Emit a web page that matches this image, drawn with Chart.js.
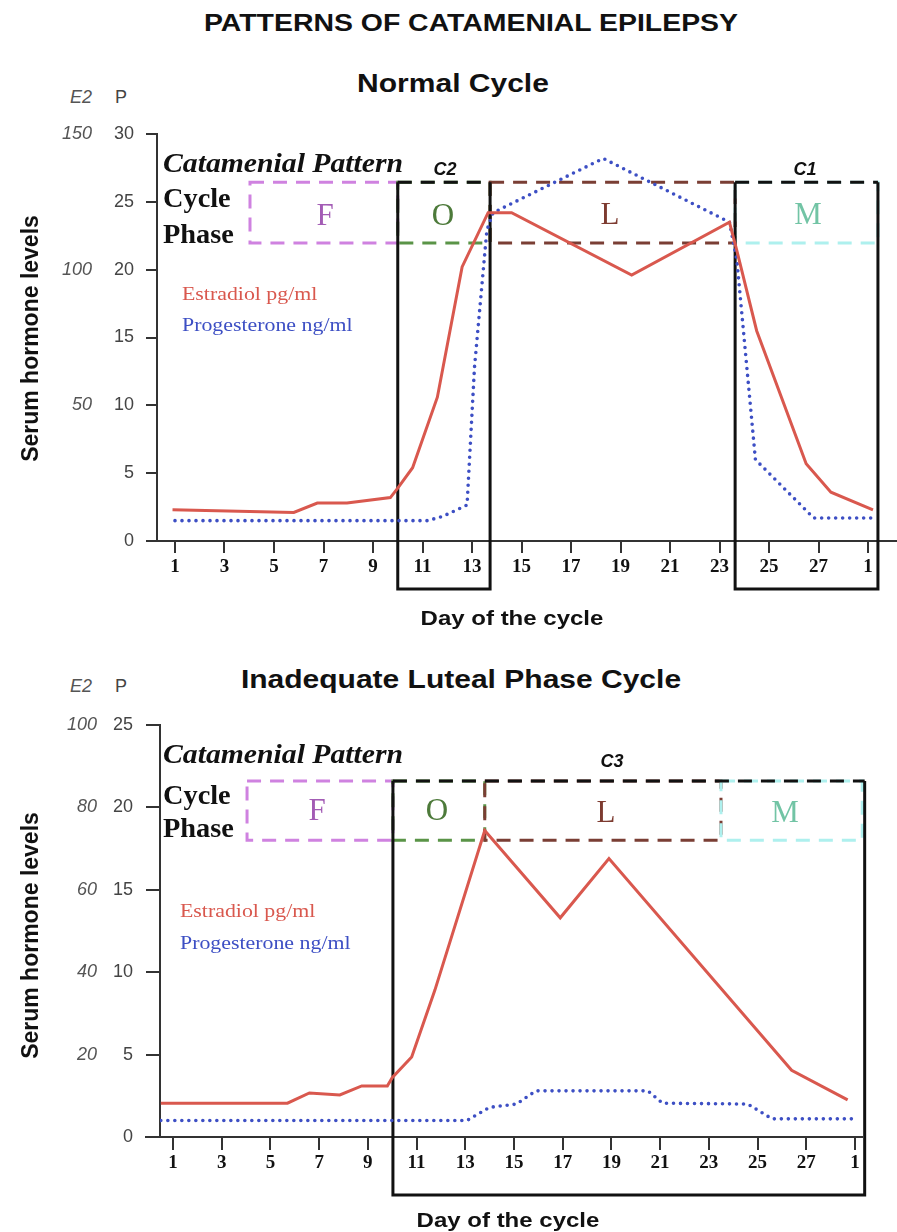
<!DOCTYPE html>
<html><head><meta charset="utf-8">
<script src="https://cdn.jsdelivr.net/npm/chart.js@4.4.1/dist/chart.umd.min.js"></script>
<style>
html,body{margin:0;padding:0;background:#fff;}
#page{position:relative;width:897px;height:1232px;overflow:hidden;background:#fff;}
.cw{position:absolute;left:0;width:897px;}
.t{position:absolute;white-space:nowrap;line-height:1;width:1000px;}
</style></head><body><div id="page">
<div class="cw" style="top:110px;height:520px"><canvas id="c1" width="897" height="520"></canvas></div>
<div class="cw" style="top:700px;height:520px"><canvas id="c2" width="897" height="520"></canvas></div>
</div>
<script>
// ---------- data ----------
const tickDays = [1,3,5,7,9,11,13,15,17,19,21,23,25,27,29];
const tickLabels = ['1','3','5','7','9','11','13','15','17','19','21','23','25','27','1'];

// Normal cycle
const normalE2Days = [0.9, 5.8, 6.75, 7.95, 9.7, 10.0, 10.6, 11.6, 12.6, 13.65, 14.6, 19.45, 23.4, 23.7, 24.5, 26.5, 27.5, 29.2];
const normalE2     = [11.5, 10.5, 14, 14, 16, 19.5, 27, 53, 101, 121, 121, 98, 117.5, 107, 77.5, 28.5, 18, 11.5];
const normalPDays  = [1.0, 11.2, 11.8, 12.8, 13.1, 13.6, 13.85, 18.3, 23.4, 23.7, 24.45, 26.8, 29.2];
const normalP      = [1.5, 1.5, 1.8, 2.65, 12.8, 22.9, 24.2, 28.2, 23.5, 20.7, 6.0, 1.7, 1.7];

// Inadequate luteal phase cycle
const ilpE2Days = [0.5, 5.7, 6.6, 7.85, 8.75, 9.8, 10.0, 10.8, 11.75, 13.8, 16.9, 18.9, 26.4, 28.7];
const ilpE2     = [8.2, 8.2, 10.7, 10.2, 12.4, 12.4, 14.4, 19.4, 35.6, 74.4, 53.2, 67.6, 16.2, 9];
const ilpPDays  = [0.5, 13.07, 14.0, 15.1, 15.9, 20.5, 21.1, 24.6, 25.6, 28.9];
const ilpP      = [1.0, 1.0, 1.8, 2.0, 2.8, 2.8, 2.05, 2.0, 1.1, 1.1];

// Cycle phases (days) and pattern windows
const phaseNames = ['F','O','L','M'];
const normalPhaseStart = [4.03, 10.0, 13.73, 23.63];
const normalPhaseEnd   = [10.0, 13.73, 23.63, 29.4];
const normalPhaseBand  = [21.96, 26.45];
const normalPatterns   = ['C2','C1'];
const normalPatternStart = [10.0, 23.63];
const normalPatternEnd   = [13.73, 29.4];

const ilpPhaseStart = [4.04, 10.03, 13.8, 23.5];
const ilpPhaseEnd   = [10.03, 13.8, 23.5, 29.3];
const ilpPhaseBand  = [18.0, 21.6];
const ilpPatterns   = ['C3'];
const ilpPatternStart = [10.03];
const ilpPatternEnd   = [29.4];

// ---------- styles ----------
const phaseColors = ['#cf82e0','#5a9447','#7a3e34','#aef0ee'];
const RED = '#d9584e', BLUE = '#3d4fc4', AXIS = '#333';
const SANS = "'Liberation Sans', Arial, sans-serif";
const SERIF = "'Liberation Serif', 'Times New Roman', serif";

const pts = (xs, ys) => xs.map((d, i) => ({x: d, y: ys[i]}));

const phasePlugin = {
  id: 'phases',
  beforeDatasetsDraw(chart, args, o) {
    const {ctx, scales: {x, y}} = chart;
    ctx.save();
    ctx.lineWidth = 3;
    o.start.forEach((s, i) => {
      const x0 = x.getPixelForValue(s), x1 = x.getPixelForValue(o.end[i]);
      const y0 = y.getPixelForValue(o.band[1]), y1 = y.getPixelForValue(o.band[0]);
      ctx.strokeStyle = phaseColors[i];
      ctx.setLineDash([14, 9]);
      ctx.strokeRect(x0, y0, x1 - x0, y1 - y0);
    });
    o.cStart.forEach((s, i) => {
      const x0 = x.getPixelForValue(s), x1 = x.getPixelForValue(o.cEnd[i]);
      const yt = y.getPixelForValue(o.band[1]), yb = y.getPixelForValue(0) + o.cDrop;
      ctx.strokeStyle = '#111';
      ctx.setLineDash([]);
      ctx.beginPath(); ctx.moveTo(x0, yt); ctx.lineTo(x0, yb); ctx.lineTo(x1, yb); ctx.lineTo(x1, yt); ctx.stroke();
      ctx.setLineDash([14, 9]);
      ctx.beginPath(); ctx.moveTo(x0, yt); ctx.lineTo(x1, yt); ctx.stroke();
    });
    ctx.restore();
  },
  afterDraw(chart, args, o) {
    if (!o.axisExt) return;
    const {ctx, chartArea} = chart;
    ctx.save();
    ctx.strokeStyle = AXIS; ctx.lineWidth = 2;
    ctx.beginPath(); ctx.moveTo(chartArea.left - o.axisExt, chartArea.bottom); ctx.lineTo(chartArea.left, chartArea.bottom); ctx.stroke();
    ctx.restore();
  }
};

function makeChart(id, cfg) {
  return new Chart(document.getElementById(id), {
    type: 'line',
    data: {
      datasets: [
        {label: 'Estradiol pg/ml', data: pts(cfg.e2Days, cfg.e2), yAxisID: 'y2', borderColor: RED, borderWidth: 3, pointRadius: 0, tension: 0, fill: false},
        {label: 'Progesterone ng/ml', data: pts(cfg.pDays, cfg.p), yAxisID: 'y', borderColor: BLUE, borderWidth: 3.6, borderDash: [0, 7], borderCapStyle: 'round', pointRadius: 0, tension: 0, fill: false}
      ]
    },
    options: {
      responsive: false, animation: false, devicePixelRatio: 1,
      layout: {padding: {top: cfg.padTop, left: 0, right: cfg.padRight, bottom: 0}},
      plugins: {
        legend: {display: false}, tooltip: {enabled: false},
        phases: {start: cfg.phStart, end: cfg.phEnd, band: cfg.band, cStart: cfg.cStart, cEnd: cfg.cEnd, cDrop: cfg.cDrop, axisExt: cfg.axisExt}
      },
      scales: {
        x: {
          type: 'linear', min: cfg.xMin, max: cfg.xMax,
          afterBuildTicks: s => { s.ticks = tickDays.map(v => ({value: v})); },
          afterFit: s => { s.height = cfg.xH; },
          ticks: {autoSkip: false, maxRotation: 0, color: '#111', padding: cfg.xPad,
                  font: {family: SERIF, weight: 'bold', size: 19},
                  callback: v => tickLabels[tickDays.indexOf(v)]},
          grid: {drawOnChartArea: false, drawTicks: true, tickLength: cfg.xTick, color: AXIS, lineWidth: 2},
          border: {display: true, color: AXIS, width: 2}
        },
        y: {
          position: 'left', weight: 0, min: 0, max: cfg.pMax,
          afterFit: s => { s.width = cfg.pW; },
          ticks: {stepSize: 5, color: '#444', padding: cfg.pPad, font: {family: SANS, size: 18}},
          grid: {drawOnChartArea: false, drawTicks: true, tickLength: cfg.pTick, color: AXIS, lineWidth: 2},
          border: {display: true, color: AXIS, width: 2}
        },
        y2: {
          position: 'left', weight: 1, min: 0, max: cfg.eMax,
          afterFit: s => { s.width = 100; },
          ticks: {stepSize: cfg.eStep, color: '#555', padding: cfg.ePad, font: {family: SANS, size: 18, style: 'italic'},
                  callback: v => v === 0 ? '' : v},
          grid: {display: false, drawTicks: false},
          border: {display: false}
        }
      }
    },
    plugins: [phasePlugin]
  });
}

makeChart('c1', {
  e2Days: normalE2Days, e2: normalE2, pDays: normalPDays, p: normalP,
  padTop: 24, padRight: 0, xMin: 0.273, xMax: 30.17, xH: 89, xPad: 3, xTick: 12,
  pMax: 30, pW: 57, pPad: 12, pTick: 11, eMax: 150, eStep: 50, ePad: 8,
  phStart: normalPhaseStart, phEnd: normalPhaseEnd, band: normalPhaseBand,
  cStart: normalPatternStart, cEnd: normalPatternEnd, cDrop: 48, axisExt: 0
});
makeChart('c2', {
  e2Days: ilpE2Days, e2: ilpE2, pDays: ilpPDays, p: ilpP,
  padTop: 25, padRight: 35, xMin: 0.466, xMax: 29.29, xH: 83, xPad: 2, xTick: 13,
  pMax: 25, pW: 60, pPad: 13, pTick: 14, eMax: 100, eStep: 20, ePad: 3,
  phStart: ilpPhaseStart, phEnd: ilpPhaseEnd, band: ilpPhaseBand,
  cStart: ilpPatternStart, cEnd: ilpPatternEnd, cDrop: 58, axisExt: 15
});

// ---------- text ----------
const texts = [
  ['PATTERNS OF CATAMENIAL EPILEPSY', 471, 31, 'c', SANS, 23, 'bold', 'normal', '#111', 1.235],
  ['Normal Cycle', 453, 92, 'c', SANS, 25, 'bold', 'normal', '#111', 1.2],
  ['E2', 92, 103, 'r', SANS, 18, 'normal', 'italic', '#555', 1],
  ['P', 121, 103, 'c', SANS, 18, 'normal', 'normal', '#444', 1],
  ['Catamenial Pattern', 163, 173, 'l', SERIF, 27, 'bold', 'italic', '#111', 1.1],
  ['Cycle', 163, 208, 'l', SERIF, 27, 'bold', 'normal', '#111', 1.05],
  ['Phase', 163, 244, 'l', SERIF, 27, 'bold', 'normal', '#111', 1.05],
  ['C2', 445, 175, 'c', SANS, 18, 'bold', 'italic', '#111', 1],
  ['C1', 805, 175, 'c', SANS, 18, 'bold', 'italic', '#111', 1],
  ['F', 325, 225, 'c', SERIF, 31, 'normal', 'normal', '#a35cb5', 1],
  ['O', 443, 225, 'c', SERIF, 31, 'normal', 'normal', '#4d7a3a', 1],
  ['L', 610, 224, 'c', SERIF, 31, 'normal', 'normal', '#7d3b30', 1],
  ['M', 808, 224, 'c', SERIF, 31, 'normal', 'normal', '#72c4a5', 1],
  ['Estradiol pg/ml', 182, 300, 'l', SERIF, 19, 'normal', 'normal', RED, 1.15],
  ['Progesterone ng/ml', 182, 331, 'l', SERIF, 19, 'normal', 'normal', BLUE, 1.15],
  ['Day of the cycle', 512, 625, 'c', SANS, 20, 'bold', 'normal', '#111', 1.2],

  ['Inadequate Luteal Phase Cycle', 461, 688, 'c', SANS, 25, 'bold', 'normal', '#111', 1.2],
  ['E2', 92, 692, 'r', SANS, 18, 'normal', 'italic', '#555', 1],
  ['P', 121, 692, 'c', SANS, 18, 'normal', 'normal', '#444', 1],
  ['Catamenial Pattern', 163, 764, 'l', SERIF, 27, 'bold', 'italic', '#111', 1.1],
  ['Cycle', 163, 805, 'l', SERIF, 27, 'bold', 'normal', '#111', 1.05],
  ['Phase', 163, 838, 'l', SERIF, 27, 'bold', 'normal', '#111', 1.05],
  ['C3', 612, 767, 'c', SANS, 18, 'bold', 'italic', '#111', 1],
  ['F', 317, 820, 'c', SERIF, 31, 'normal', 'normal', '#a35cb5', 1],
  ['O', 437, 820, 'c', SERIF, 31, 'normal', 'normal', '#4d7a3a', 1],
  ['L', 606, 822, 'c', SERIF, 31, 'normal', 'normal', '#7d3b30', 1],
  ['M', 785, 822, 'c', SERIF, 31, 'normal', 'normal', '#72c4a5', 1],
  ['Estradiol pg/ml', 180, 917, 'l', SERIF, 19, 'normal', 'normal', RED, 1.15],
  ['Progesterone ng/ml', 180, 949, 'l', SERIF, 19, 'normal', 'normal', BLUE, 1.15],
  ['Day of the cycle', 508, 1227, 'c', SANS, 20, 'bold', 'normal', '#111', 1.2]
];
const page = document.getElementById('page');
texts.forEach(([txt, x, base, al, fam, size, wt, st, col, sx]) => {
  const d = document.createElement('div');
  d.className = 't';
  d.textContent = txt;
  const asc = fam === SERIF ? 0.8375 : 0.8465;
  d.style.cssText += `font-family:${fam};font-size:${size}px;font-weight:${wt};font-style:${st};color:${col};top:${base - asc * size}px;`;
  if (al === 'l') { d.style.left = x + 'px'; d.style.textAlign = 'left'; d.style.transformOrigin = '0 50%'; }
  else if (al === 'c') { d.style.left = (x - 500) + 'px'; d.style.textAlign = 'center'; d.style.transformOrigin = '50% 50%'; }
  else { d.style.left = (x - 1000) + 'px'; d.style.textAlign = 'right'; d.style.transformOrigin = '100% 50%'; }
  if (sx !== 1) d.style.transform = `scaleX(${sx})`;
  page.appendChild(d);
});
// rotated axis titles
[338, 935].forEach(cy => {
  const d = document.createElement('div');
  d.className = 't';
  d.textContent = 'Serum hormone levels';
  d.style.cssText += `font-family:${SANS};font-size:23px;font-weight:bold;color:#111;text-align:center;left:${30 - 500}px;top:${cy - 11.5}px;height:23px;transform:rotate(-90deg);transform-origin:50% 50%;`;
  page.appendChild(d);
});
</script>
</body></html>
